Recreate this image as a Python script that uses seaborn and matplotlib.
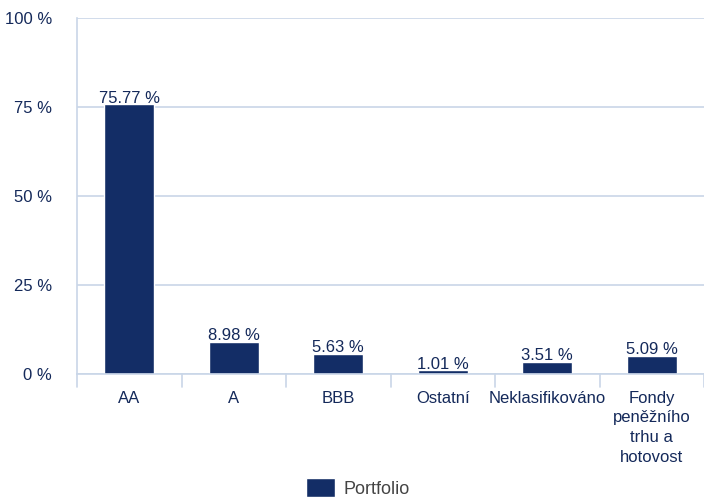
import pandas as pd
import matplotlib.pyplot as plt
import seaborn as sns

# Chart data
categories = ['AA', 'A', 'BBB', 'Ostatní', 'Neklasifikováno',
              'Fondy\npeněžního\ntrhu a\nhotovost']
values = [75.77, 8.98, 5.63, 1.01, 3.51, 5.09]
y_ticks = [0, 25, 50, 75, 100]
series_name = 'Portfolio'

df = pd.DataFrame({'category': categories, 'value': values, 'series': series_name})

navy = '#132d66'
grid_col = '#c9d6e8'
label_col = '#14295a'

sns.set_theme(style='white')
plt.rcParams['font.family'] = ['Liberation Sans', 'DejaVu Sans']

fig = plt.figure(figsize=(7.04, 4.97), dpi=100)
ax = fig.add_axes([77 / 704, 1 - 374 / 497, 627 / 704, 356 / 497])

sns.barplot(data=df, x='category', y='value', hue='series', palette=[navy],
            width=0.48, saturation=1, ax=ax)

# Value labels on bars
for cont in ax.containers:
    ax.bar_label(cont, labels=[f'{v:.2f} %' for v in values], padding=-1,
                 fontsize=12, color=label_col)

ax.set_ylim(0, 100)
ax.set_xlim(-0.5, len(categories) - 0.5)
ax.set_yticks(y_ticks)
ax.set_yticklabels([f'{t} %' for t in y_ticks], fontsize=12, color=label_col)
ax.tick_params(axis='y', length=0, pad=18)
ax.tick_params(axis='x', length=0, pad=12, labelsize=12, labelcolor=label_col)
for lbl in ax.get_xticklabels():
    lbl.set_linespacing(1.4)
ax.set_xlabel('')
ax.set_ylabel('')

# Gridlines and axes
ax.yaxis.grid(True, color=grid_col, linewidth=1.2)
ax.set_axisbelow(True)
for side in ['top', 'right']:
    ax.spines[side].set_visible(False)
ax.spines['left'].set_color(grid_col)
ax.spines['bottom'].set_color(grid_col)
ax.spines['left'].set_linewidth(1.2)
ax.spines['bottom'].set_linewidth(1.2)

# Category separator ticks below the axis
for b in [i - 0.5 for i in range(len(categories) + 1)]:
    ax.plot([b, b], [0, -3.7], color=grid_col, linewidth=1.2, clip_on=False)

ax.legend(loc='center', bbox_to_anchor=(358 / 704, 9 / 497),
          bbox_transform=fig.transFigure, frameon=False, fontsize=13,
          handlelength=1.6, handleheight=1.2, handletextpad=0.5,
          labelcolor='#444444')

plt.savefig('out.png', dpi=100)
